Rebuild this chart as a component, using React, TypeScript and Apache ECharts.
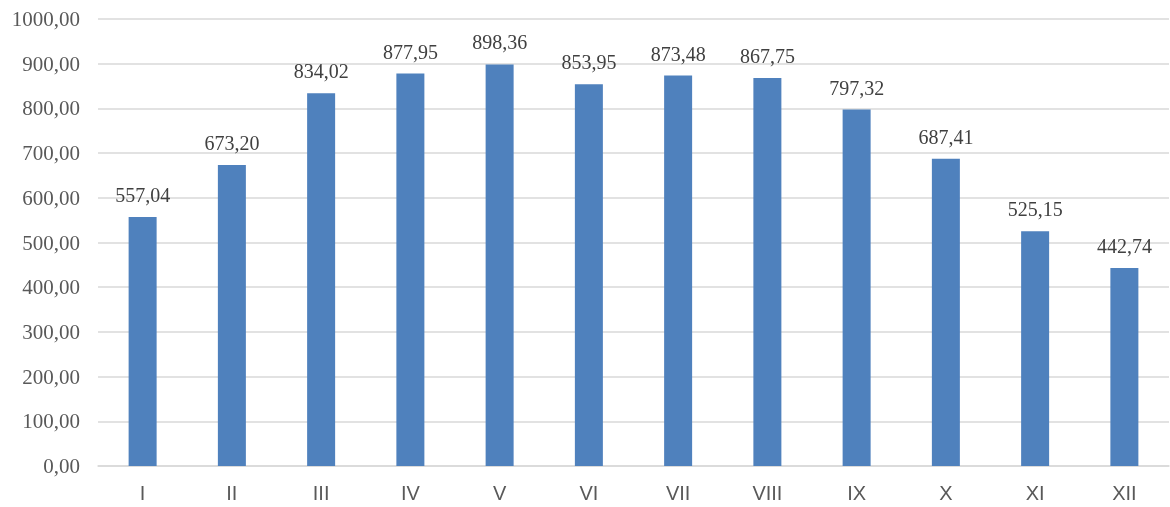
import React, { useEffect, useRef } from "react";
import * as echarts from "echarts";

const categories = ["I", "II", "III", "IV", "V", "VI", "VII", "VIII", "IX", "X", "XI", "XII"];
const values = [557.04, 673.2, 834.02, 877.95, 898.36, 853.95, 873.48, 867.75, 797.32, 687.41, 525.15, 442.74];

const fmt = (v: number) => v.toFixed(2).replace(".", ",");

export default function App() {
  const ref = useRef<HTMLDivElement>(null);
  useEffect(() => {
    const chart = echarts.init(ref.current!, null, { renderer: "svg" });
    chart.setOption({
      animation: false,
      grid: { left: 98, right: 1, top: 19, bottom: 41 },
      xAxis: {
        type: "category",
        data: categories,
        axisLine: { lineStyle: { color: "#d9d9d9", width: 1.5 } },
        axisTick: { show: false },
        axisLabel: { color: "#595959", fontSize: 20, fontFamily: "Liberation Sans", margin: 17 },
      },
      yAxis: {
        type: "value",
        min: 0,
        max: 1000,
        interval: 100,
        axisLine: { show: false },
        axisTick: { show: false },
        splitLine: { lineStyle: { color: "#d9d9d9", width: 1.5 } },
        axisLabel: {
          color: "#595959",
          fontSize: 21,
          fontFamily: "Liberation Serif",
          margin: 18,
          formatter: (v: number) => fmt(v),
        },
      },
      series: [
        {
          type: "bar",
          data: values,
          barWidth: 28,
          itemStyle: { color: "#4f81bd" },
          label: {
            show: true,
            position: "top",
            distance: 12,
            color: "#404040",
            fontSize: 20,
            fontFamily: "Liberation Serif",
            formatter: (p: any) => fmt(p.value),
          },
        },
      ],
    });
    return () => chart.dispose();
  }, []);
  return <div ref={ref} style={{ position: "fixed", left: 0, top: 0, width: 1170, height: 507 }} />;
}
